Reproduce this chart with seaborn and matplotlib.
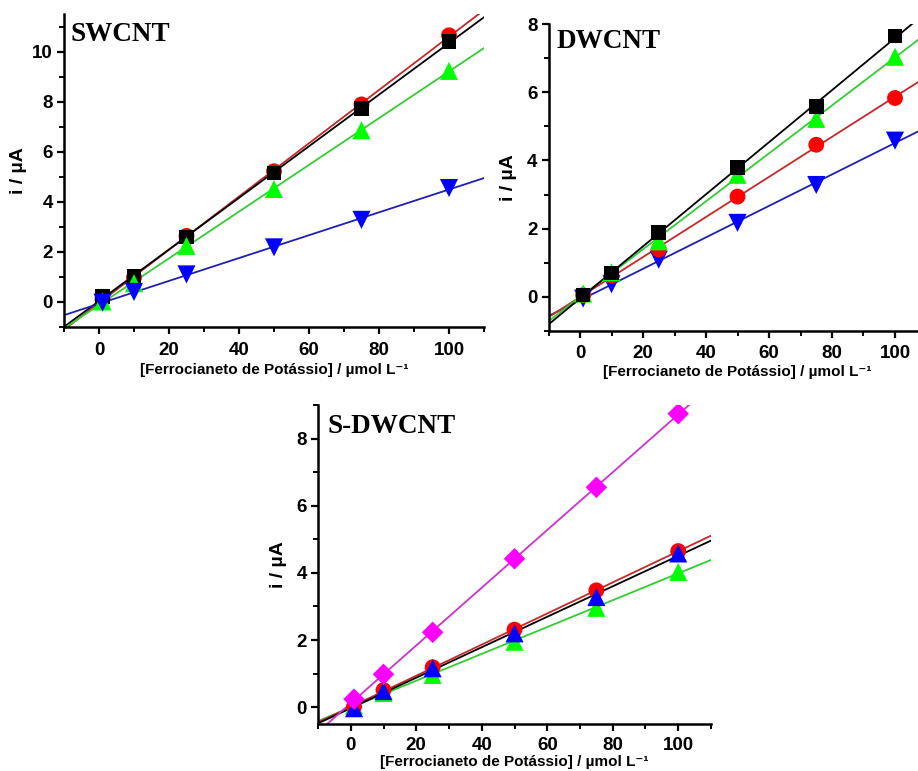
import numpy as np
import pandas as pd
import matplotlib
matplotlib.use("Agg")
import matplotlib.pyplot as plt
import seaborn as sns
from matplotlib.ticker import MultipleLocator

# ---------------- data ----------------
conc = [1, 10, 25, 50, 75, 100]

sw_black = [0.21, 1.04, 2.59, 5.15, 7.72, 10.40]
sw_red = [0.12, 0.98, 2.64, 5.22, 7.89, 10.65]
sw_green = [0.02, 0.75, 2.24, 4.51, 6.86, 9.23]
sw_blue = [-0.03, 0.40, 1.10, 2.18, 3.28, 4.55]

dw_black = [0.05, 0.70, 1.88, 3.79, 5.58, 7.65]
dw_green = [0.10, 0.72, 1.63, 3.58, 5.22, 7.04]
dw_red = [0.05, 0.62, 1.39, 2.94, 4.46, 5.83]
dw_blue = [-0.05, 0.37, 1.09, 2.17, 3.28, 4.58]

sd_red = [0.02, 0.51, 1.19, 2.31, 3.48, 4.65]
sd_blue = [-0.03, 0.48, 1.16, 2.20, 3.28, 4.58]
sd_green = [0.05, 0.42, 0.96, 1.95, 2.96, 4.03]
sd_magenta = [0.24, 0.98, 2.23, 4.42, 6.55, 8.74]

panel_titles = ["SWCNT", "DWCNT", "S-DWCNT"]
x_label = "[Ferrocianeto de Potássio] / µmol L⁻¹"
y_label = "i / µA"

# ---------------- styles ----------------
STY = {
    "black": dict(marker="s", face="#000000", line="#000000", s=110),
    "red": dict(marker="o", face="#FF0000", line="#C62828", s=130),
    "green": dict(marker="^", face="#00FF00", line="#33CC33", s=170),
    "blue_dn": dict(marker="v", face="#0000FF", line="#1F1FB0", s=170),
    "blue_up": dict(marker="^", face="#0000FF", line="#000000", s=170),
    "magenta": dict(marker="D", face="#FF00FF", line="#CC33CC", s=120),
}

sns.set_style("ticks")
plt.rcParams["font.family"] = ["Liberation Sans", "DejaVu Sans"]
plt.rcParams["font.weight"] = "bold"
for k in ("text.color", "axes.labelcolor", "xtick.color", "ytick.color", "axes.edgecolor"):
    plt.rcParams[k] = "black"

W, H = 918, 771
fig = plt.figure(figsize=(W / 100, H / 100), dpi=100)


def make_axes(left, right, bottom, top):
    return fig.add_axes([left / W, 1 - bottom / H, (right - left) / W, (bottom - top) / H])


def draw_panel(ax, series, ylim, ymajor, title, title_xy, ylab_x, xpad, xlabpad):
    ax.set_xlim(-10, 110)
    ax.set_ylim(*ylim)
    x = np.array(conc, dtype=float)
    # fit lines first
    for vals, key in series:
        st = STY[key]
        sns.regplot(x=x, y=np.array(vals, dtype=float), ax=ax, scatter=False,
                    ci=None, truncate=False,
                    line_kws=dict(color=st["line"], lw=1.3, zorder=2))
    # markers
    for vals, key in series:
        st = STY[key]
        sns.scatterplot(x=x, y=np.array(vals, dtype=float), ax=ax,
                        marker=st["marker"], color=st["face"], s=st["s"],
                        edgecolor="none", linewidth=0, zorder=3, legend=False)
    ax.set_xlim(-10, 110)
    ax.set_ylim(*ylim)
    ax.xaxis.set_major_locator(MultipleLocator(20))
    ax.xaxis.set_minor_locator(MultipleLocator(10))
    ax.yaxis.set_major_locator(MultipleLocator(ymajor))
    ax.yaxis.set_minor_locator(MultipleLocator(ymajor / 2))
    ax.set_xticks([0, 20, 40, 60, 80, 100])
    ax.tick_params(axis="both", which="major", direction="out", length=5, width=1.6,
                   labelsize=13.5, pad=3, color="black", labelcolor="black")
    ax.tick_params(axis="x", which="major", pad=xpad)
    ax.tick_params(axis="both", which="minor", direction="out", length=3.5, width=1.4,
                   color="black")
    for lab in ax.get_xticklabels() + ax.get_yticklabels():
        lab.set_fontweight("bold")
    sns.despine(ax=ax)
    for sp in ("left", "bottom"):
        ax.spines[sp].set_linewidth(1.8)
        ax.spines[sp].set_color("black")
    ax.set_xlabel(x_label, fontsize=11, fontweight="bold", labelpad=xlabpad, color="black")
    ax.set_ylabel(y_label, fontsize=14, fontweight="bold", color="black")
    ax.yaxis.set_label_coords(ylab_x, 0.5)
    ax.text(title_xy[0], title_xy[1], title, transform=ax.transAxes,
            ha="left", va="top", fontsize=19.5, fontweight="bold",
            family="Liberation Serif", color="black")
    ax.grid(False)


ax1 = make_axes(64, 484, 327, 14)
draw_panel(ax1,
           [(sw_red, "red"), (sw_black, "black"), (sw_green, "green"), (sw_blue, "blue_dn")],
           (-1, 11.5), 2, panel_titles[0], (0.015, 0.974), -0.088, 6, 3)

ax2 = make_axes(548.5, 926.5, 331, 24)
draw_panel(ax2,
           [(dw_blue, "blue_dn"), (dw_red, "red"), (dw_green, "green"), (dw_black, "black")],
           (-1, 8), 2, panel_titles[1], (0.022, 0.984), -0.083, 5, 2)

ax3 = make_axes(318, 711, 724, 405)
draw_panel(ax3,
           [(sd_green, "green"), (sd_red, "red"), (sd_blue, "blue_up"), (sd_magenta, "magenta")],
           (-0.5, 9), 2, panel_titles[2], (0.025, 0.972), -0.079, 4, 1)

fig.savefig("out.png", dpi=100)
